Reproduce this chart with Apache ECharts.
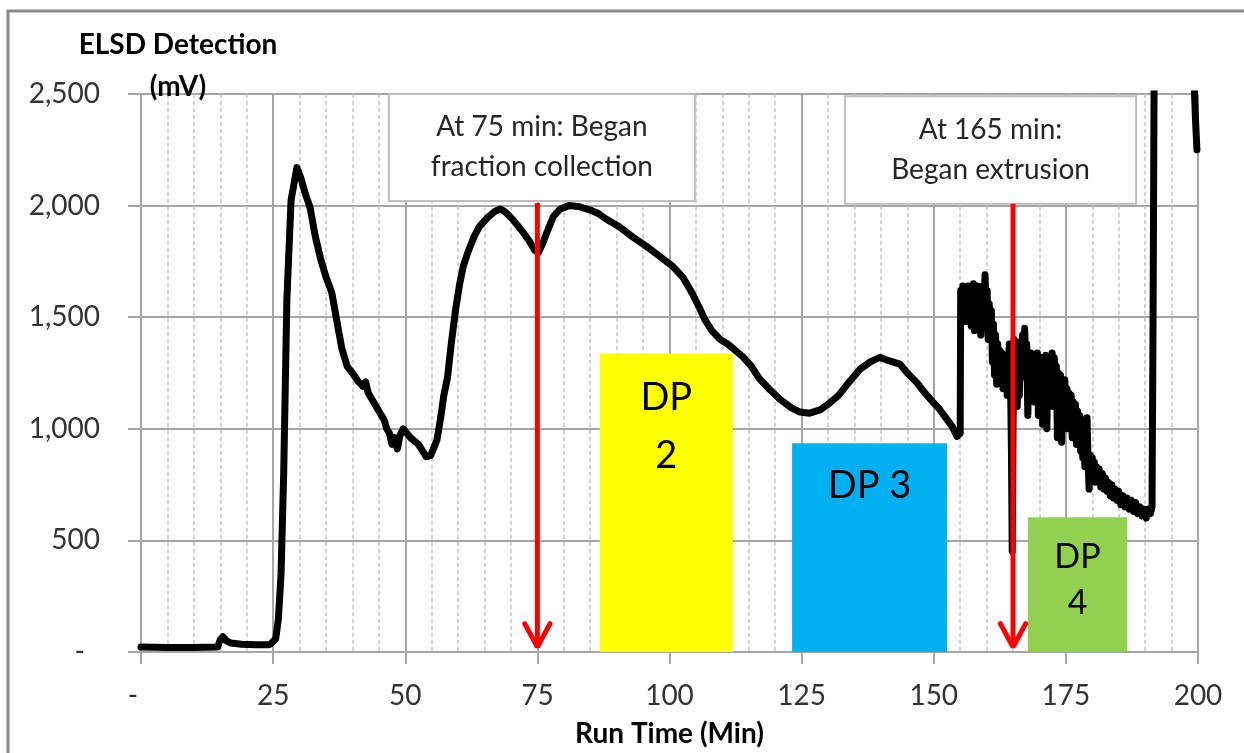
<!DOCTYPE html>
<html>
<head>
<meta charset="utf-8">
<script src="https://cdn.jsdelivr.net/npm/echarts@6/dist/echarts.min.js"></script>
<style>html,body{margin:0;padding:0;background:#fff}#c{width:1244px;height:753px}</style>
</head>
<body>
<div id="c"></div>
<script>
// ---- data ----
const time = [0,5,10,14.5,15.0,15.5,16.2,17,19,22,24,24.5,25.5,26,26.5,27,27.6,28.4,29.5,30.3,31,32,33,34,35,36.1,37,38,39,40,41,42,42.5,43,44,45,46,46.5,47,47.5,48,48.5,49,49.6,50.3,51,51.5,52.5,53.3,54,54.8,55.5,56,56.7,57.3,58,58.7,59.5,60.3,61,62,63,64,65.5,67,68,69,70.4,72,73.5,74.5,75.2,76,76.8,78,79.3,81,83,85,86.5,88,90.5,93,95.7,98,100.7,102.5,104,105.5,106.7,108,109.6,111,112.5,114,115.5,117,119,121,123,124.7,126.5,128.5,130,132,134,136,138,139.8,141.5,143.6,145,146.8,148,149.9,151,152.5,153.5,154.4,
155.0,155.1,155.3,155.5,155.7,155.9,156.1,156.3,156.5,156.7,156.9,157.1,157.3,157.5,157.7,157.9,158.1,158.3,158.5,158.7,158.9,159.1,159.3,159.5,159.7,159.9,160.1,160.3,160.5,160.7,160.9,161.1,161.3,161.5,161.7,161.9,162.1,162.3,162.5,162.7,162.9,163.1,163.3,163.5,163.7,163.9,164.1,164.3,164.5,164.7,164.85,165.0,165.2,165.4,165.6,165.8,166.0,166.2,166.4,166.6,166.8,167.0,167.2,167.4,167.6,167.8,168.0,168.2,168.4,168.6,168.8,169.0,169.2,169.4,169.6,169.8,170.0,170.2,170.4,170.6,170.8,171.0,171.2,171.4,171.6,171.8,172.0,172.2,172.4,172.6,172.8,173.0,173.2,173.4,173.6,173.8,174.0,174.2,174.4,174.6,174.8,175.0,175.2,175.4,175.6,175.8,176.0,176.2,176.4,176.6,176.8,177.0,177.2,177.4,177.6,177.8,178.0,178.2,178.4,178.6,178.8,179.0,179.2,179.4,179.6,179.8,180.0,180.2,180.4,180.6,180.8,181.0,181.3,181.6,181.9,182.2,182.5,182.8,183.1,183.4,183.7,184.0,184.3,184.7,185.0,185.4,185.8,186.2,186.6,187.0,187.4,187.8,188.2,188.6,189.0,189.4,189.8,190.2,190.6,191.0,191.3,
191.5,191.7,192,198,199.2,199.5,199.8];
const signal = [22,20,20,22,55,68,50,40,35,32,32,35,60,150,350,800,1580,2026,2170,2120,2060,1990,1860,1760,1680,1610,1490,1360,1280,1250,1215,1190,1210,1160,1120,1080,1040,1000,980,930,960,910,970,1000,980,960,950,930,900,875,880,920,950,1050,1150,1230,1380,1530,1650,1730,1800,1860,1905,1945,1975,1985,1970,1936,1890,1840,1800,1790,1830,1880,1950,1985,2000,1995,1980,1965,1940,1905,1860,1816,1775,1726,1680,1620,1550,1489,1440,1400,1380,1350,1320,1280,1225,1175,1130,1095,1075,1070,1085,1110,1150,1210,1266,1300,1320,1305,1290,1250,1207,1170,1118,1090,1042,1010,966,
980,1620,1560,1640,1500,1610,1480,1590,1640,1520,1630,1460,1600,1650,1440,1620,1560,1640,1500,1610,1420,1580,1640,1480,1690,1560,1620,1400,1560,1460,1530,1300,1470,1240,1420,1200,1380,1290,1350,1230,1340,1180,1320,1240,1300,1150,1290,1380,1260,900,450,1000,1400,1250,1390,1100,1350,1150,1370,1230,1420,1280,1450,1300,1380,1060,1310,1180,1340,1240,1330,1120,1300,1200,1340,1060,1290,1130,1320,1020,1280,1150,1330,1000,1270,1120,1310,1190,1340,1100,1320,1200,1280,960,1250,1080,1240,940,1200,1050,1220,1060,1180,1000,1160,1040,1150,960,1120,980,1110,930,1080,950,1060,900,1040,870,1000,830,960,1050,850,730,880,800,870,780,850,760,830,770,820,740,800,730,780,720,760,700,750,690,730,680,720,660,700,650,690,640,680,630,670,620,650,610,640,600,640,620,650,
1500,2600,3200,3200,2600,2400,2250];

const xTickLabels = ['-','25','50','75','100','125','150','175','200'];
const yTickLabels = ['-','500','1,000','1,500','2,000','2,500'];

const arrowTimes = [75, 165];
const arrowTop = [2012, 2008];
const arrowTip = 22;

const notes = [
  {text:'At 75 min: Began\nfraction collection', x0:46.9, x1:104.8, y0:2021, y1:2500},
  {text:'At 165 min:\nBegan extrusion', x0:133.2, x1:188.3, y0:2008, y1:2490}
];
const dpBoxes = [
  {text:'DP\n2', x0:86.8, x1:112.0, y0:0, y1:1337, color:'#ffff00', fs:38, lh:58, d:15},
  {text:'DP 3', x0:123.2, x1:152.5, y0:0, y1:935, color:'#00b0f0', fs:38, lh:46, d:19},
  {text:'DP\n4', x0:167.8, x1:186.6, y0:-9, y1:604, color:'#92d050', fs:34, lh:46, d:17}
];

// ---- chart ----
const FONT = 'Lato, "Open Sans", sans-serif';
const lineData = time.map((t,i)=>[t, signal[i]]);

const markAreaData = [];
notes.forEach(n=>{
  markAreaData.push([
    {xAxis:n.x0, yAxis:n.y1, itemStyle:{color:'#ffffff', borderColor:'#bfbfbf', borderWidth:2},
     label:{show:true, position:'inside', formatter:n.text, fontSize:28, lineHeight:40, color:'#262626', fontFamily:FONT}},
    {xAxis:n.x1, yAxis:n.y0}
  ]);
});
dpBoxes.forEach(b=>{
  markAreaData.push([
    {xAxis:b.x0, yAxis:b.y1, itemStyle:{color:b.color, borderWidth:0},
     label:{show:true, position:'insideTop', distance:b.d, formatter:b.text, fontSize:b.fs, lineHeight:b.lh, color:'#000', fontFamily:FONT}},
    {xAxis:b.x1, yAxis:b.y0}
  ]);
});

const series = [{
  type:'line', data:lineData, showSymbol:false, symbol:'none',
  lineStyle:{color:'#000', width:7, join:'round', cap:'round'}, z:3,
  markArea:{silent:true, data:markAreaData}
}];
arrowTimes.forEach((t,i)=>{
  series.push({type:'line', data:[[t, arrowTop[i]],[t, arrowTip]], showSymbol:false, symbol:'none',
    lineStyle:{color:'#ff0000', width:5}, z:5});
  series.push({type:'line', data:[[t-2.4, arrowTip+105],[t, arrowTip],[t+2.4, arrowTip+105]], showSymbol:false, symbol:'none',
    lineStyle:{color:'#ff0000', width:5, cap:'round'}, z:5});
});

const chart = echarts.init(document.getElementById('c'), null, {renderer:'canvas'});
chart.setOption({
  animation:false,
  backgroundColor:'#fff',
  grid:{left:141, right:46, top:94, bottom:100, containLabel:false},
  xAxis:{
    type:'value', min:0, max:200, interval:25,
    name:'Run Time (Min)', nameLocation:'middle', nameGap:68,
    nameTextStyle:{fontSize:28, fontWeight:'bold', color:'#000', fontFamily:FONT},
    axisLine:{show:true, onZero:false, lineStyle:{color:'#a6a6a6', width:2}},
    axisTick:{show:true, length:12, lineStyle:{color:'#a6a6a6', width:2}},
    axisLabel:{fontSize:28, color:'#333', margin:30, fontFamily:FONT,
      formatter:(v)=> v===0 ? '{d|-}' : xTickLabels[Math.round(v/25)],
      rich:{d:{fontSize:28, color:'#333', padding:[0,16,0,0], fontFamily:FONT}}},
    splitLine:{show:true, lineStyle:{color:'#a6a6a6', width:2}},
    minorTick:{show:false, splitNumber:5},
    minorSplitLine:{show:true, lineStyle:{color:'#c4c4c4', width:1.5, type:[4,3]}}
  },
  yAxis:{
    type:'value', min:0, max:2500, interval:500,
    axisLine:{show:true, lineStyle:{color:'#a6a6a6', width:2}},
    axisTick:{show:true, length:13, lineStyle:{color:'#a6a6a6', width:2}},
    axisLabel:{fontSize:28, color:'#333', margin:41, fontFamily:FONT,
      formatter:(v)=> v===0 ? '{d|-}' : yTickLabels[Math.round(v/500)],
      rich:{d:{fontSize:28, color:'#333', padding:[0,15,0,0], fontFamily:FONT}}},
    splitLine:{show:true, lineStyle:{color:'#a6a6a6', width:2}}
  },
  graphic:[
    {type:'rect', shape:{x:8, y:11, width:1260, height:780}, style:{fill:'none', stroke:'#898989', lineWidth:3}, z:100, silent:true},
    {type:'text', x:178, y:24, style:{text:'ELSD Detection\n(mV)', textAlign:'center', fontSize:28, fontWeight:'bold', lineHeight:42, fill:'#000', fontFamily:FONT}, z:100}
  ],
  series:series
});
</script>
</body>
</html>
